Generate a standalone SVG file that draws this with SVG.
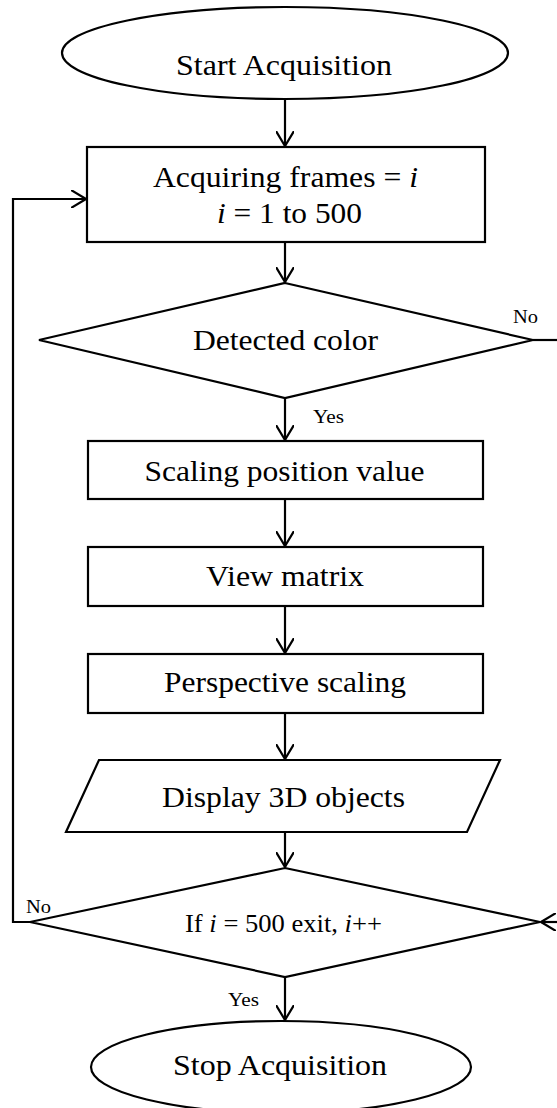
<svg xmlns="http://www.w3.org/2000/svg" width="557" height="1108" viewBox="0 0 557 1108">
<style>
.shape{fill:#fff;stroke:#000;stroke-width:2.2}
.t{font-family:"Liberation Serif","Times New Roman",serif;font-size:30px;fill:#000}
.t2{font-family:"Liberation Serif","Times New Roman",serif;font-size:26px;fill:#000}
.s{font-family:"Liberation Serif","Times New Roman",serif;font-size:18px;fill:#000}
.c{fill:none;stroke:#000;stroke-width:2.2}
</style>
<defs>
<marker id="arr" viewBox="0 0 16 18" refX="15" refY="9" markerWidth="16" markerHeight="18" markerUnits="userSpaceOnUse" orient="auto">
<path d="M0,0 L15,9 L0,18" fill="none" stroke="#000" stroke-width="2.2"/>
</marker>
</defs>
<rect width="557" height="1108" fill="#fff"/>
<g id="connectors">
<line class="c" x1="285" y1="99" x2="285" y2="146" marker-end="url(#arr)"/>
<line class="c" x1="285" y1="242" x2="285" y2="282" marker-end="url(#arr)"/>
<line class="c" x1="285" y1="398" x2="285" y2="440" marker-end="url(#arr)"/>
<line class="c" x1="285" y1="499" x2="285" y2="546" marker-end="url(#arr)"/>
<line class="c" x1="285" y1="606" x2="285" y2="653" marker-end="url(#arr)"/>
<line class="c" x1="285" y1="713" x2="285" y2="759" marker-end="url(#arr)"/>
<line class="c" x1="285" y1="832" x2="285" y2="867" marker-end="url(#arr)"/>
<line class="c" x1="285" y1="977" x2="285" y2="1020" marker-end="url(#arr)"/>
<line class="c" x1="533" y1="340" x2="557" y2="340"/>
<line class="c" x1="558" y1="922" x2="541" y2="922" marker-end="url(#arr)"/>
<polyline class="c" points="30,922 13,922 13,199 86,199" marker-end="url(#arr)"/>
<text class="s" x="513" y="323" textLength="25" lengthAdjust="spacingAndGlyphs">No</text>
<text class="s" x="313" y="423" textLength="31" lengthAdjust="spacingAndGlyphs">Yes</text>
<text class="s" x="26" y="913" textLength="25" lengthAdjust="spacingAndGlyphs">No</text>
<text class="s" x="228" y="1006" textLength="31" lengthAdjust="spacingAndGlyphs">Yes</text>
</g>
<g id="start">
<ellipse class="shape" cx="285" cy="53" rx="223" ry="46"/>
<text class="t" x="176" y="75" textLength="216" lengthAdjust="spacingAndGlyphs">Start Acquisition</text>
</g>
<g id="acquire">
<rect class="shape" x="87" y="147" width="398" height="95"/>
<text class="t" x="153" y="187" textLength="265" lengthAdjust="spacingAndGlyphs">Acquiring frames = <tspan font-style="italic">i</tspan></text>
<text class="t" x="217" y="223" textLength="145" lengthAdjust="spacingAndGlyphs"><tspan font-style="italic">i</tspan> = 1 to 500</text>
</g>
<g id="detect">
<polygon class="shape" points="285,283 533,340 285,398 39,340"/>
<text class="t" x="193" y="350" textLength="185" lengthAdjust="spacingAndGlyphs">Detected color</text>
</g>
<g id="scaling">
<rect class="shape" x="88" y="441" width="395" height="58"/>
<text class="t" x="144.5" y="481" textLength="280" lengthAdjust="spacingAndGlyphs">Scaling position value</text>
</g>
<g id="view">
<rect class="shape" x="88" y="547" width="395" height="59"/>
<text class="t" x="206" y="586" textLength="158" lengthAdjust="spacingAndGlyphs">View matrix</text>
</g>
<g id="perspective">
<rect class="shape" x="88" y="654" width="395" height="59"/>
<text class="t" x="164" y="692" textLength="242" lengthAdjust="spacingAndGlyphs">Perspective scaling</text>
</g>
<g id="display">
<polygon class="shape" points="99,760 500,760 467,832 66,832"/>
<text class="t" x="162" y="807" textLength="243" lengthAdjust="spacingAndGlyphs">Display 3D objects</text>
</g>
<g id="check">
<polygon class="shape" points="285,868 540,922 285,977 30,922"/>
<text class="t2" x="185" y="932" textLength="197" lengthAdjust="spacingAndGlyphs">If <tspan font-style="italic">i</tspan> = 500 exit, <tspan font-style="italic">i</tspan>++</text>
</g>
<g id="stop">
<ellipse class="shape" cx="281" cy="1067" rx="190" ry="46"/>
<text class="t" x="173" y="1075" textLength="214" lengthAdjust="spacingAndGlyphs">Stop Acquisition</text>
</g>
</svg>
